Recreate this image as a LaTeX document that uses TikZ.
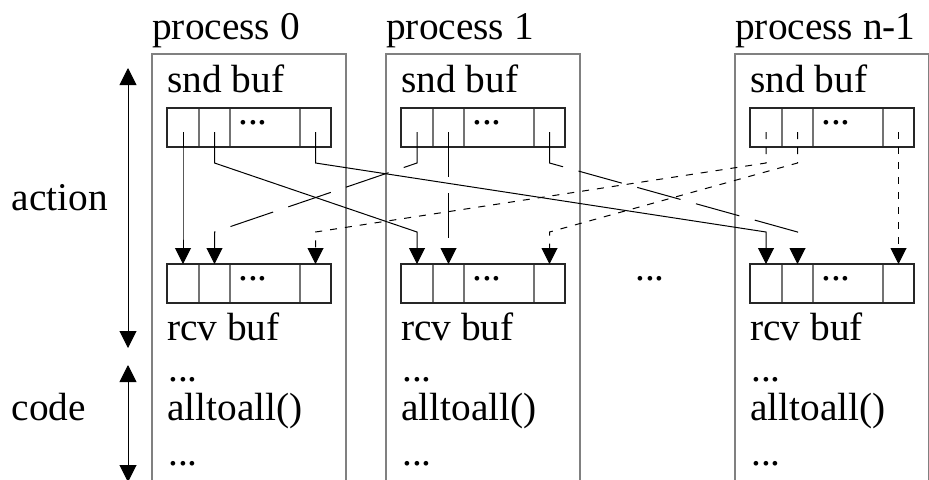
\documentclass[tikz,border=0pt]{standalone}
\usepackage{fontspec}
\setmainfont{Liberation Serif}
\usetikzlibrary{arrows.meta}

% one row of buffer cells: #1 name prefix, #2 left x, #3 top y
\newcommand\makebuf[3]{%
  \node[cell, minimum width=24pt]    (#1a) at (#2,#3) {};
  \node[cell, minimum width=23.25pt] (#1b) at (#1a.north east) {};
  \node[cell, minimum width=52.5pt]  (#1c) at (#1b.north east) {};
  \node[cell, minimum width=23.25pt] (#1d) at (#1c.north east) {};
  \draw[bufframe] (#1a.north west) rectangle (#1d.south east);
  \node[lbl] (#1dots) at ([xshift=6pt,yshift=-12pt]#1c.north west) {...};
}

% connector from a send cell down to a receive cell
\newcommand\route[3]{%
  \draw[conn,#1] ([yshift=-3.4pt]#2.center) -- ([yshift=-12pt]#2.south)
    -- ([yshift=24pt]#3.north) -- (#3.north);
}

% process column: #1 name, #2 left x, #3 title
\newcommand\proccol[3]{%
  \draw[procbox] (#2,500) |- (#2+194,54) -- (#2+194,500);
  \node[lbl] (#1title) at (#2,39) {#3};
  \node[lbl] (#1snd)   at (#2+15,92) {snd buf};
  \node[lbl] (#1rcv)   at (#2+15,340) {rcv buf};
  \node[lbl] (#1dtop)  at (#2+16,381) {...};
  \node[lbl] (#1call)  at (#2+15,420) {alltoall()};
  \node[lbl] (#1dbot)  at (#2+16,465) {...};
  \makebuf{s#1}{#2+15}{108}
  \makebuf{r#1}{#2+15}{264}
}

\begin{document}
\begin{tikzpicture}[x=0.75pt,y=-0.75pt,
  lbl/.style={anchor=base west, inner sep=0pt, font=\fontsize{29.5}{30}\selectfont},
  procbox/.style={draw=black!50, line width=1.1pt},
  cell/.style={draw=black!55, line width=0.9pt, minimum height=29.25pt,
    inner sep=0pt, outer sep=0pt, anchor=north west},
  bufframe/.style={draw=black!85, line width=0.9pt},
  conn/.style={line width=0.75pt, -{Triangle[length=12pt,width=12pt]}},
  longdash/.style={dash pattern=on 33.75pt off 12pt},
  shortdash/.style={dash pattern=on 5.25pt off 6pt},
  span/.style={line width=0.75pt,
    {Triangle[length=12.75pt,width=12.75pt]}-{Triangle[length=12.75pt,width=12.75pt]}}]
\useasboundingbox (0,0) rectangle (929,479);

% process columns
\proccol{0}{152}{process 0}
\proccol{1}{386}{process 1}
\proccol{2}{735}{process n-1}

% gap between the middle and last column
\node[lbl] (middots) at (635,280) {...};

% phase arrows on the left
\coordinate (actTop) at (128,68);
\coordinate (actBot) at (128,348);
\coordinate (codeTop) at (128,365);
\coordinate (codeBot) at (128,482);
\draw[span] (actTop) -- (actBot);
\draw[span] (codeTop) -- (codeBot);
\node[lbl] (action) at (11.5,210) {action};
\node[lbl] (code)   at (11.5,420) {code};

% data exchange: block j of process i goes to block i of process j
\route{}{s0a}{r0a}
\route{}{s0b}{r1a}
\route{}{s0d}{r2a}
\route{longdash}{s1a}{r0b}
\route{longdash}{s1b}{r1b}
\route{longdash}{s1d}{r2b}
\route{shortdash}{s2a}{r0d}
\route{shortdash}{s2b}{r1d}
\route{shortdash}{s2d}{r2d}
\end{tikzpicture}
\end{document}
